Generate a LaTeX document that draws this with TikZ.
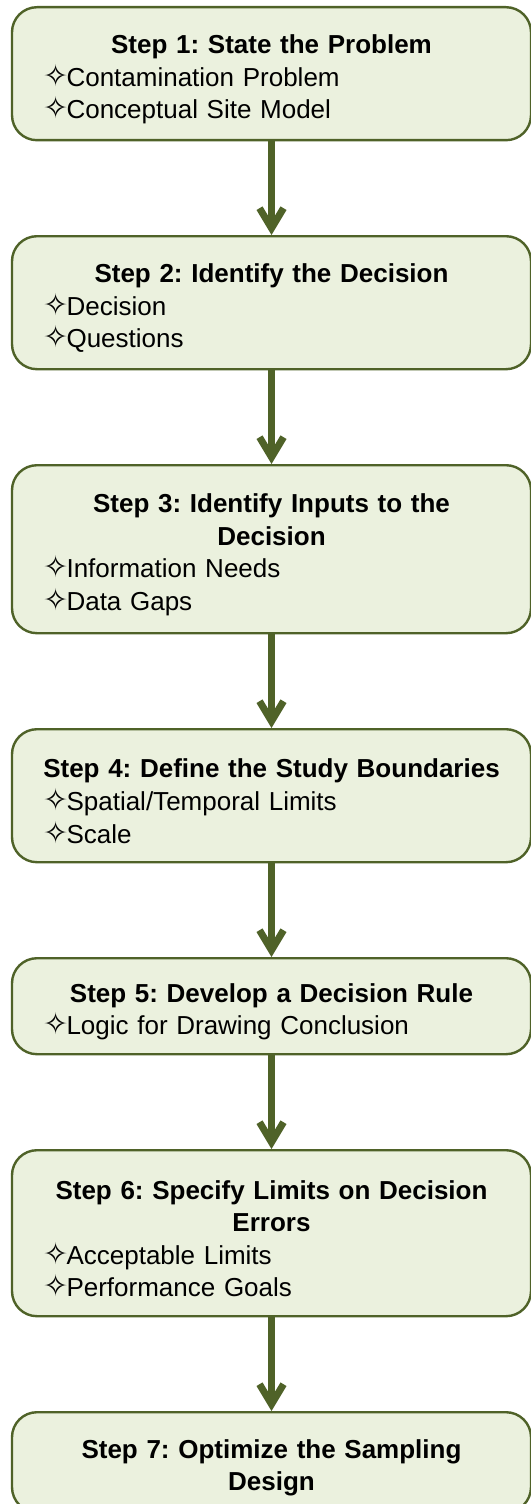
\documentclass[tikz,border=0pt]{standalone}
\usepackage{fontspec}
\setmainfont{Liberation Sans}
\newfontfamily\starfont{DejaVu Sans}
\usetikzlibrary{positioning,arrows.meta}
\frenchspacing
\newcommand{\qstar}{{\starfont\fontsize{15pt}{16pt}\selectfont ✧}\kern-0.8pt}
\begin{document}
\begin{tikzpicture}[
  stepbox/.style={draw=frame, fill=panel, line width=1.2pt, rounded corners=12.5pt,
    text width=228.5pt, inner xsep=15.5pt, inner ysep=6pt,
    font=\fontsize{13pt}{16.3pt}\selectfont,
    execute at begin node={\rule{0pt}{15pt}}},
  flow/.style={draw=frame, line width=3.5pt, -{Straight Barb[length=10pt,width=12pt]}},
  node distance=46.8pt
]
\definecolor{frame}{HTML}{4F6228}
\definecolor{panel}{HTML}{EBF1DE}
\useasboundingbox (0,0) rectangle (265pt,-752pt);
% the seven steps
\node[stepbox, anchor=north, minimum height=66.5pt] (s1) at (135.75pt,-3pt)
  {\centering\textbf{Step 1: State the Problem}\par\raggedright
   \qstar Contamination Problem\\\qstar Conceptual Site Model};
\node[stepbox, below=of s1, minimum height=66.5pt] (s2)
  {\centering\textbf{Step 2: Identify the Decision}\par\raggedright
   \qstar Decision\\\qstar Questions};
\node[stepbox, below=of s2, minimum height=84pt] (s3)
  {\centering\textbf{Step 3: Identify Inputs to the Decision}\par\raggedright
   \qstar Information Needs\\\qstar Data Gaps};
\node[stepbox, below=of s3, minimum height=66.5pt] (s4)
  {\centering\textbf{Step 4: Define the Study Boundaries}\par\raggedright
   \qstar Spatial/Temporal Limits\\\qstar Scale};
\node[stepbox, below=of s4, minimum height=48pt] (s5)
  {\centering\textbf{Step 5: Develop a Decision Rule}\par\raggedright
   \qstar Logic for Drawing Conclusion};
\node[stepbox, below=of s5, minimum height=83pt] (s6)
  {\centering\textbf{Step 6: Specify Limits on Decision Errors}\par\raggedright
   \qstar Acceptable Limits\\\qstar Performance Goals};
\node[stepbox, below=of s6, minimum height=50pt] (s7)
  {\centering\textbf{Step 7: Optimize the Sampling Design}\par};
% arrows
\foreach \a/\b in {s1/s2,s2/s3,s3/s4,s4/s5,s5/s6,s6/s7}
  \draw[flow] (\a) -- (\b);
\end{tikzpicture}
\end{document}
